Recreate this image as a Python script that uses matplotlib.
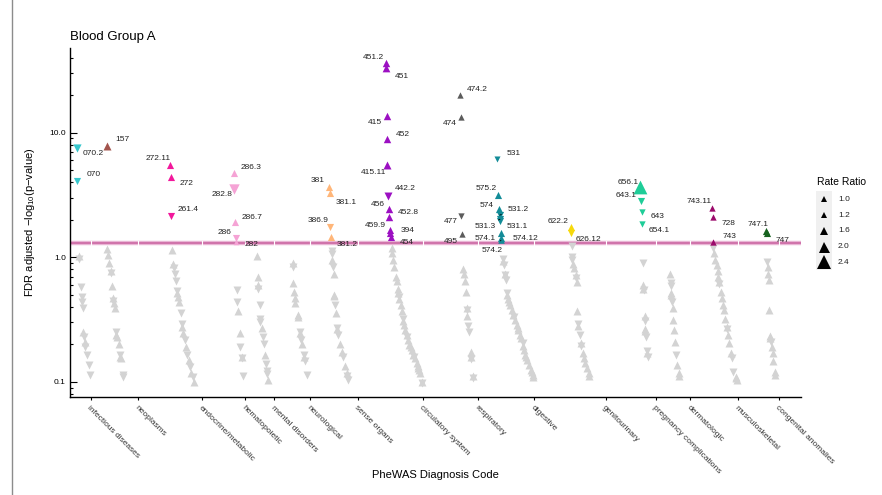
import matplotlib
matplotlib.use("Agg")
import matplotlib.pyplot as plt
import numpy as np
from matplotlib.lines import Line2D
from matplotlib.patches import Rectangle

plt.rcParams['font.family'] = ['Liberation Sans', 'DejaVu Sans']
plt.rcParams['mathtext.fontset'] = 'custom'
plt.rcParams['mathtext.rm'] = 'Liberation Sans'

# categories, their tick position (x = phenotype rank) and colours
categories = ['infectious diseases', 'neoplasms', 'endocrine/metabolic', 'hematopoietic',
              'mental disorders', 'neurological', 'sense organs', 'circulatory system',
              'respiratory', 'digestive', 'genitourinary', 'pregnancy complications',
              'dermatologic', 'musculoskeletal', 'congenital anomalies']
cat_ticks = [21, 68.3, 131.7, 175, 204.3, 240, 287.7, 352.7, 408.3, 464.3,
             535.7, 585.7, 620.3, 668.3, 709.3]
cat_colors = ['#36c6cc', '#a3544d', '#f2189c', '#f5a3d5', '#7a7a7a', '#6a8fd0',
              '#ffb679', '#9c10c2', '#5c5c5c', '#138c98', '#f6d90c', '#1fcd98',
              '#c06060', '#9b0a6b', '#17631f']

p_threshold = 0.05

# significant phenotypes
sig_code = ['070.2', '070', '157', '272.11', '272', '261.4', '286.3', '282.8', '286.7', '286', '282',
            '381', '381.1', '386.9', '381.2',
            '451.2', '451', '415', '452', '415.11', '442.2', '456', '452.8', '459.9', '394', '454',
            '474.2', '474', '477', '495',
            '531', '575.2', '574', '531.2', '531.3', '531.1', '574.1', '574.12', '574.2',
            '622.2', '626.12', '656.1', '643.1', '643', '654.1',
            '743.11', '728', '743', '747.1', '747']
sig_cat = [0, 0, 1, 2, 2, 2, 3, 3, 3, 3, 3,
           6, 6, 6, 6,
           7, 7, 7, 7, 7, 7, 7, 7, 7, 7, 7,
           8, 8, 8, 8,
           9, 9, 9, 9, 9, 9, 9, 9, 9,
           10, 10, 11, 11, 11, 11,
           13, 13, 13, 14, 14]
sig_x = [7.3, 7.3, 36.7, 100, 100.7, 101.3, 164.3, 164.3, 165.3, 166, 166,
         259.3, 259.7, 260.3, 261,
         316, 316, 316.7, 317.3, 317.3, 318.3, 318.7, 319.3, 319.7, 320.3, 321,
         390.3, 391, 391.3, 391.7,
         427.3, 428, 429, 429.7, 430, 430.3, 430.7, 431, 431,
         500.7, 501, 570, 571.3, 572, 572.3,
         642.3, 642.7, 643.3, 696, 697]
sig_y = [7.57, 4.07, 7.85, 5.5, 4.43, 2.14, 4.72, 3.53, 1.91, 1.42, 1.33,
         3.68, 3.26, 1.74, 1.46,
         36.4, 32.8, 13.7, 8.83, 5.53, 3.12, 2.43, 2.09, 1.66, 1.56, 1.45,
         20.0, 13.4, 2.16, 1.54,
         6.11, 3.16, 2.43, 2.18, 2.02, 1.95, 1.56, 1.42, 1.37,
         1.75, 1.57, 3.64, 2.84, 2.32, 1.85,
         2.50, 2.12, 1.32, 1.62, 1.56]
sig_rr = [0.67, 0.77, 1.45, 1.3, 1.3, 0.77, 1.3, 0.53, 1.3, 0.77, 1.0,
          1.3, 1.3, 0.77, 1.3,
          1.35, 1.4, 1.35, 1.35, 1.45, 0.69, 1.35, 1.35, 1.3, 1.3, 1.3,
          1.15, 1.15, 0.87, 1.15,
          0.91, 1.3, 1.3, 0.77, 0.77, 0.77, 1.3, 1.3, 1.2,
          1.3, 0.77, 2.5, 0.77, 0.87, 0.87,
          1.15, 1.15, 1.15, 1.3, 1.3]

# non-significant phenotypes (x rank, FDR adjusted -log10 p, direction)
gray_x = [9.3, 9.3, 10.7, 11.7, 12.3, 13, 13.3, 14, 14.7, 15.3, 16.7, 18.7, 20,
          37.3, 38, 39.3, 40.7, 40.7, 41.7, 42.7, 42.7, 44, 45.3, 46, 46, 47.3, 48.7, 50, 50, 51.3, 52.7, 52.7,
          102, 102.7, 104, 105, 106, 107.3, 107.3, 108.3, 109.3, 110.7, 112, 112, 113.3, 114.7, 116, 117.3,
          118.7, 120, 121.3, 122.7, 124,
          166.7, 167.3, 168.3, 169.7, 170.3, 171.7, 171.7, 173.3,
          187.3, 188, 188.3, 188.3, 189.7, 190.3, 190.3, 191.7, 192.7, 193.7, 195, 196, 197, 197, 198.3,
          222.7, 222.7, 223.3, 224, 224.7, 225.3, 227.7, 227.7, 230, 230, 231, 232.3, 234, 234, 235, 236.7,
          261.7, 261.7, 262.3, 263, 263.7, 264.3, 264.3, 265, 265.7, 267, 267, 268.3, 270.3, 271.7, 273,
          275, 277, 277, 278.3,
          321.7, 322.3, 323.3, 324.3, 326, 326.7, 327.7, 328.3, 329.3, 329.3, 330.7, 332, 333.3, 333.3,
          334.3, 335.3, 336.7, 337.3, 338, 339.3, 340.5, 341.7, 343.3, 344, 345, 346.7, 347.5, 348.3, 349,
          350, 351.7, 351.7,
          393.3, 394, 394.7, 395.7, 396.7, 396.7, 397.3, 398.3, 399.3, 400.7, 401.3, 401.3, 403.3, 403.3,
          433.3, 433.3, 434, 435.3, 435.3, 436, 437.3, 437.3, 438.3, 439, 440, 441.7, 443.3, 444, 445,
          446.7, 447.5, 448.3, 450, 451, 452.7, 452.7, 454, 455.3, 456.3, 457.3, 459, 460.7, 462, 463.3, 463.3,
          501.7, 501.7, 501.7, 502.7, 504, 506, 506, 506.7, 507.3, 508.3, 508.3, 510, 511, 511, 512.7,
          514, 515.3, 517.3, 519.3, 519.3,
          572.7, 573.3, 573.3, 574, 574.7, 574.7, 575.3, 575.3, 576, 577.3, 577.3, 578,
          600, 600.7, 600.7, 601.3, 601.3, 602, 602.7, 603.3, 604, 604.7, 606, 607.3, 609.3, 609.3,
          643.3, 644, 645.3, 646.7, 648, 648.3, 649.3, 649.3, 650.7, 652, 653.3, 654, 655.3, 656.7, 656.7,
          658, 659.3, 660.7, 661.7, 663.3, 666, 666, 667.3,
          697.3, 698, 698.3, 699, 699.3, 700, 700, 701, 702, 702.7, 703.3, 705.3, 705.3]
gray_y = [1.02, 0.97, 0.58, 0.48, 0.44, 0.39, 0.25, 0.23, 0.21, 0.19, 0.165, 0.137, 0.114,
          1.16, 1.04, 0.905, 0.77, 0.75, 0.59, 0.47, 0.45, 0.43, 0.39, 0.25, 0.24, 0.23, 0.20, 0.165, 0.16,
          0.155, 0.114, 0.11,
          1.14, 0.89, 0.815, 0.74, 0.64, 0.54, 0.52, 0.48, 0.44, 0.355, 0.29, 0.275, 0.245, 0.217, 0.19, 0.165,
          0.15, 0.133, 0.117, 0.11, 0.10,
          0.55, 0.44, 0.37, 0.245, 0.19, 0.16, 0.155, 0.112,
          1.02, 0.69, 0.60, 0.56, 0.415, 0.32, 0.30, 0.27, 0.23, 0.20, 0.165, 0.14, 0.122, 0.116, 0.104,
          0.90, 0.84, 0.62, 0.53, 0.47, 0.43, 0.344, 0.335, 0.25, 0.245, 0.217, 0.20, 0.165, 0.16, 0.146, 0.114,
          1.12, 1.06, 0.95, 0.84, 0.74, 0.50, 0.49, 0.415, 0.355, 0.27, 0.265, 0.238, 0.20, 0.175, 0.16,
          0.134, 0.117, 0.111, 0.104,
          1.18, 1.08, 0.95, 0.84, 0.70, 0.64, 0.56, 0.52, 0.48, 0.46, 0.415, 0.37, 0.32, 0.31,
          0.286, 0.261, 0.238, 0.228, 0.217, 0.198, 0.19, 0.18, 0.165, 0.16, 0.155, 0.141, 0.135, 0.13, 0.125,
          0.117, 0.10, 0.098,
          0.80, 0.73, 0.64, 0.53, 0.39, 0.38, 0.34, 0.28, 0.25, 0.175, 0.158, 0.152, 0.112, 0.108,
          0.97, 0.93, 0.875, 0.74, 0.72, 0.66, 0.52, 0.50, 0.46, 0.44, 0.415, 0.378, 0.344, 0.33, 0.314,
          0.286, 0.27, 0.261, 0.238, 0.225, 0.205, 0.195, 0.18, 0.165, 0.158, 0.15, 0.137, 0.125, 0.12, 0.114, 0.11,
          1.23, 1.0, 0.96, 0.89, 0.815, 0.72, 0.68, 0.63, 0.37, 0.29, 0.28, 0.238, 0.205, 0.195, 0.17,
          0.155, 0.141, 0.13, 0.117, 0.112,
          0.905, 0.60, 0.56, 0.55, 0.34, 0.31, 0.265, 0.258, 0.23, 0.178, 0.172, 0.16,
          0.74, 0.62, 0.59, 0.52, 0.50, 0.44, 0.39, 0.314, 0.261, 0.21, 0.165, 0.137, 0.117, 0.112,
          1.18, 1.08, 0.95, 0.875, 0.77, 0.70, 0.63, 0.61, 0.53, 0.47, 0.415, 0.378, 0.32, 0.275, 0.265,
          0.238, 0.205, 0.17, 0.155, 0.12, 0.11, 0.107, 0.104,
          0.92, 0.84, 0.74, 0.66, 0.38, 0.235, 0.225, 0.21, 0.19, 0.17, 0.146, 0.12, 0.114]
gray_dir = list('^vvvvv^v^vvvv'
                '^^^^v^^v^^v^^^v^^v'
                'v^^vvvv^^^vv^^v^v^v^v^'
                'vv^^v^vv'
                '^^^vvvv^vv^vvv^^'
                'v^^^^^^v^v^v^vvv'
                'v^v^^^v^v^v^^v^^vv'
                '^^^^^^^^v^^^v^^^^v^^^^^v^^^^^^^v'
                '^^^^^v^vv^^v^v'
                'v^v^vvv^^^^^^v^^^^^^v^^^^^^^^^^v'
                'vv^^^v^^v^v^v^^^^^^v'
                '^^v^v^^vv^v^'
                'vv^^v^^^^v^^^v'
                '^^^^^^v^^^^^^v^^^vv^^^v^'
                '^^^^^v^^^^^^v')

gray_dir = gray_dir[:len(gray_y)]
gray_dir += ['^'] * (len(gray_y) - len(gray_dir))

# label offsets (px: right, down) relative to each point
label_off = {
    '070.2': (16, 6), '070': (16, -7), '157': (16, -6), '272.11': (-12, -6), '272': (16, 7),
    '261.4': (17, -7), '286.3': (17, -6), '282.8': (-12, 6), '286.7': (17, -5), '286': (-11, -6),
    '282': (16, 3), '381': (-12, -6), '381.1': (17, 9), '386.9': (-12, -7), '381.2': (16, 8),
    '451.2': (-13, -5), '451': (16, 8), '415': (-12, 7), '452': (16, -5), '415.11': (-14, 8),
    '442.2': (17, -7), '456': (-11, -5), '452.8': (19, -5), '459.9': (-14, -4), '394': (17, -3),
    '454': (16, 5), '474.2': (17, -6), '474': (-11, 7), '477': (-11, 6), '495': (-11, 8),
    '531': (16, -6), '575.2': (-12, -6), '574': (-12, -4), '531.2': (19, -6), '531.3': (-15, 7),
    '531.1': (17, 5), '574.1': (-15, 5), '574.12': (25, 0), '574.2': (-9, 10),
    '622.2': (-13, -5), '626.12': (17, 7), '656.1': (-12, -5), '643.1': (-15, -5), '643': (16, 5),
    '654.1': (17, 7), '743.11': (-13, -6), '728': (16, 7), '743': (16, -6), '747.1': (-8, -7),
    '747': (16, 7)}
leader = ['531.2', '531.3', '574.2']

legend_rr = [1.0, 1.2, 1.6, 2.0, 2.4]


def ms(rr):
    return 3.96 * max(rr, 1.0 / rr)


W, H = 882, 495
fig = plt.figure(figsize=(W / 100, H / 100), dpi=100)
ax = fig.add_axes([70 / W, 1 - 396.7 / H, 731 / W, 348.7 / H])
ax.set_yscale('log')
ax.set_xlim(0, 731)
ax.set_ylim(0.0762, 47.7)

thr = -np.log10(p_threshold)
ax.axhline(thr, color='#e9b6d5', lw=3.2, zorder=1.5)
ax.axhline(thr, color='#c9609f', lw=1.1, zorder=1.6)
for t in cat_ticks:
    ax.plot([t, t], [thr * 0.96, thr * 1.04], color='white', lw=0.8, zorder=1.7)

gx = np.array(gray_x)
gy = np.array(gray_y)
gd = np.array(gray_dir)
for m in ['^', 'v']:
    sel = gd == m
    ax.scatter(gx[sel], gy[sel], marker=m, s=ms(1.45) ** 2, color='#d3d3d3',
               linewidths=0, zorder=2)

for code, c, x, y, rr in zip(sig_code, sig_cat, sig_x, sig_y, sig_rr):
    m = '^' if rr >= 1 else 'v'
    ax.scatter([x], [y], marker=m, s=ms(rr) ** 2, color=cat_colors[c], linewidths=0, zorder=3)
    dx, dy = label_off[code]
    kw = {}
    if code in leader:
        kw['arrowprops'] = dict(arrowstyle='-', lw=0.6, color='black', shrinkA=3, shrinkB=0)
    ax.annotate(code, (x, y), xytext=(dx * 0.72, -dy * 0.72), textcoords='offset points',
                ha='center', va='center', fontsize=6, color='#222222', zorder=4, **kw)

ax.set_yticks([0.1, 1.0, 10.0])
ax.set_yticklabels(['0.1', '1.0', '10.0'])
ax.tick_params(axis='y', which='major', direction='in', length=5, width=0.8, labelsize=6, pad=3)
ax.tick_params(axis='y', which='minor', direction='in', length=2.2, width=0.8)
ax.set_xticks(cat_ticks)
ax.set_xticklabels(categories, rotation=-45, ha='left', va='top', rotation_mode='anchor')
ax.tick_params(axis='x', direction='out', length=2.5, width=0.8, labelsize=6,
               labelcolor='#333333', pad=3)
ax.xaxis.set_minor_locator(matplotlib.ticker.NullLocator())

for s in ['top', 'right']:
    ax.spines[s].set_visible(False)
for s in ['left', 'bottom']:
    ax.spines[s].set_linewidth(1.0)

ax.set_ylabel(r'FDR adjusted −log$_{10}$(p−value)', fontsize=8)
ax.yaxis.set_label_coords(-0.045, 0.5)
ax.set_xlabel('PheWAS Diagnosis Code', fontsize=8)
ax.xaxis.set_label_coords(0.5, -0.21)
fig.text(70 / W, 1 - 37 / H, 'Blood Group A', fontsize=9.5, ha='left', va='center')

# legend
fig.text(817 / W, 1 - 182 / H, 'Rate Ratio', fontsize=7.5, ha='left', va='center')
fig.add_artist(Rectangle((816 / W, 1 - 270 / H), 16 / W, 79 / H, transform=fig.transFigure,
                         facecolor='#f0f0f0', edgecolor='none'))
for i, rr in enumerate(legend_rr):
    yy = 1 - (199.3 + 15.75 * i) / H
    fig.add_artist(Line2D([824 / W], [yy], marker='^', ms=ms(rr), color='black', lw=0,
                          markeredgewidth=0, transform=fig.transFigure))
    fig.text(838 / W, yy, f'{rr:.1f}', fontsize=6, ha='left', va='center', color='#222222')

fig.add_artist(Line2D([11.7 / W] * 2, [0, 1], color='#8c8c8c', lw=1, transform=fig.transFigure))

fig.savefig('out.png', dpi=100)
